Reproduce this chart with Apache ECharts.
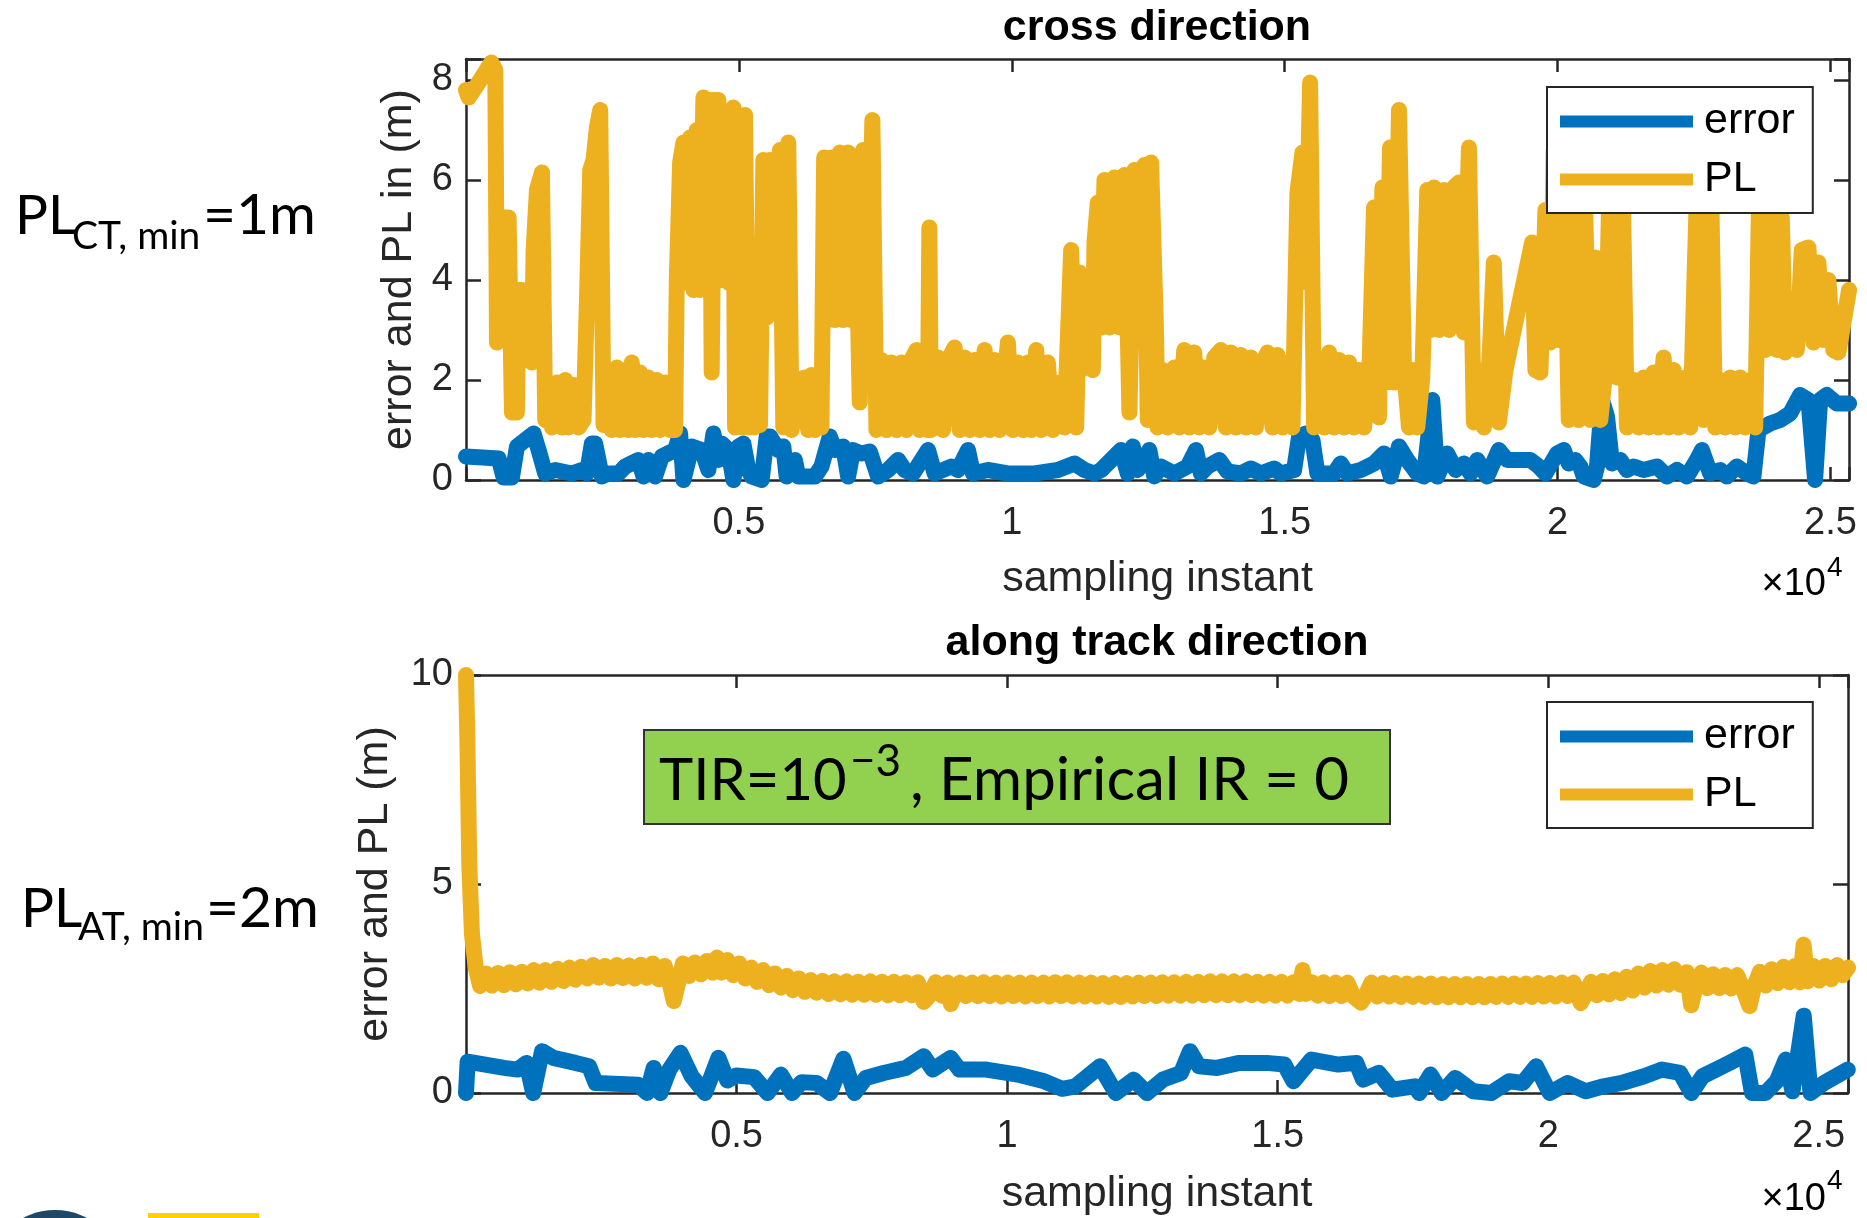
<!DOCTYPE html>
<html>
<head>
<meta charset="utf-8">
<script src="https://cdn.jsdelivr.net/npm/echarts@6/dist/echarts.min.js"></script>
<style>
html, body { margin: 0; padding: 0; background: #fff; }
#chart { width: 1867px; height: 1218px; }
</style>
</head>
<body>
<div id="chart"></div>
<script>
// x tick labels are shown in units of 1e4 (the "x10^4" note sits below the axis)
var xTickVals = [5000, 10000, 15000, 20000, 25000];
var xTickLabels = ['0.5', '1', '1.5', '2', '2.5'];
var ctYTicks = [0, 2, 4, 6, 8];
var atYTicks = [0, 5, 10];

// cross direction: error
var ctErr = [[0,0.47],[598,0.43],[690,0.05],[842,0.05],[934,0.67],[1086,0.8],[1239,0.93],[1330,0.6],[1452,0.13],[1635,0.2],
  [1940,0.13],[2123,0.2],[2215,0.13],[2306,0.73],[2367,0.73],[2489,0.07],[2611,0.13],[2794,0.13],[2916,0.27],[3160,0.4],
  [3252,0.07],[3343,0.4],[3465,0.07],[3587,0.47],[3831,0.6],[3923,0.93],[3984,0],[4136,0.67],[4319,0.6],[4441,0.2],
  [4533,0.93],[4624,0.4],[4685,0.73],[4807,0.6],[4899,0],[4990,0.67],[5082,0.73],[5173,0.2],[5234,0.07],[5417,0],
  [5509,0.87],[5570,0.87],[5722,0.6],[5814,0.67],[5875,0.07],[6027,0.4],[6088,0.07],[6391,0.07],[6513,0.27],[6666,0.87],
  [6757,0.6],[6910,0.67],[7001,0.07],[7093,0.6],[7245,0.53],[7398,0.57],[7550,0.07],[7733,0.2],[7916,0.4],[8038,0.2],
  [8191,0.13],[8465,0.6],[8587,0.13],[8892,0.27],[9014,0.2],[9197,0.6],[9289,0.13],[9563,0.2],[9929,0.13],[10417,0.13],
  [10844,0.2],[11149,0.33],[11332,0.2],[11515,0.13],[11637,0.2],[11820,0.4],[12003,0.6],[12125,0.13],[12217,0.67],[12308,0.2],
  [12520,0.6],[12611,0.07],[12733,0.27],[12855,0.2],[12977,0.13],[13099,0.2],[13221,0.27],[13374,0.6],[13465,0.13],[13587,0.27],
  [13801,0.4],[13953,0.17],[14197,0.13],[14380,0.23],[14563,0.13],[14807,0.23],[14929,0.13],[15173,0.2],[15265,0.87],[15387,0.93],
  [15509,0.8],[15600,0.13],[15905,0.13],[16027,0.33],[16149,0.13],[16393,0.2],[16637,0.33],[16820,0.53],[16942,0.07],[17095,0.67],
  [17247,0.4],[17430,0.13],[17552,0.07],[17705,1.6],[17796,0.07],[17979,0.53],[18132,0.2],[18284,0.33],[18406,0.13],[18528,0.4],
  [18710,0.07],[18924,0.6],[19076,0.4],[19503,0.4],[19656,0.27],[19778,0.13],[19991,0.53],[20113,0.6],[20205,0.33],[20327,0.4],
  [20418,0.27],[20479,0.07],[20662,0],[20723,0.27],[20815,1.6],[20906,1.27],[20998,0.33],[21150,0.4],[21272,0.2],[21394,0.27],
  [21577,0.2],[21821,0.27],[22004,0.07],[22187,0.2],[22370,0.07],[22553,0.4],[22645,0.6],[22797,0.13],[22980,0.2],[23102,0.07],
  [23285,0.27],[23468,0.13],[23590,0.07],[23682,1.0],[23895,1.13],[24078,1.2],[24261,1.33],[24444,1.7],[24597,1.6],[24719,0],
  [24811,1.6],[24933,1.7],[25115,1.53],[25341,1.53]];

// cross direction: PL
var ctPL = [[0,7.8],[49,7.65],[232,7.95],[464,8.35],[537,8.2],[568,2.75],[629,2.8],[690,5.25],[781,5.25],[842,1.35],
  [933,1.35],[964,3.8],[1025,3.8],[1086,2.4],[1147,3.8],[1208,2.35],[1239,4.6],[1300,5.8],[1391,6.15],[1452,1.2],
  [1513,1.95],[1574,1.05],[1666,1.95],[1757,1.05],[1818,2.0],[1879,1.05],[1970,1.9],[2062,1.05],[2154,1.2],[2215,3.55],
  [2276,6.2],[2337,6.4],[2398,7.05],[2459,7.4],[2520,1.1],[2611,2.2],[2672,1.0],[2764,2.25],[2825,1.0],[2916,2.2],
  [2977,1.0],[3038,2.35],[3099,1.0],[3190,2.15],[3252,1.0],[3343,2.05],[3404,1.0],[3496,2.0],[3557,1.0],[3648,1.95],
  [3740,1.0],[3831,1.0],[3862,4.0],[3923,6.35],[3984,6.75],[4045,3.95],[4106,6.85],[4167,3.8],[4228,7.0],[4289,3.8],
  [4350,7.65],[4411,3.95],[4472,7.6],[4502,2.15],[4551,7.6],[4624,7.6],[4685,4.0],[4746,7.25],[4807,3.95],[4899,7.45],
  [4930,1.05],[5021,4.25],[5060,1.05],[5112,7.3],[5173,1.05],[5234,4.3],[5280,1.05],[5326,1.95],[5387,1.1],[5448,6.4],
  [5509,3.25],[5570,6.4],[5661,3.35],[5752,6.6],[5814,1.05],[5905,6.75],[5966,1.0],[6088,2.0],[6208,2.05],[6269,1.0],
  [6330,2.1],[6391,1.0],[6452,2.0],[6513,1.05],[6562,6.45],[6635,3.2],[6696,6.45],[6757,3.2],[6849,6.55],[6910,3.2],
  [7001,6.55],[7062,3.2],[7123,6.45],[7215,1.55],[7276,6.6],[7367,3.25],[7446,7.2],[7520,1.0],[7611,2.4],[7703,1.0],
  [7794,2.35],[7886,1.0],[7977,2.35],[8069,1.0],[8160,2.4],[8252,2.6],[8313,1.0],[8400,2.3],[8460,1.0],[8490,5.05],
  [8520,1.0],[8648,2.45],[8740,1.0],[8831,2.4],[8953,2.65],[9045,1.0],[9136,2.45],[9228,1.0],[9319,2.4],[9411,1.0],
  [9502,2.6],[9594,1.0],[9685,2.4],[9777,1.0],[9929,2.75],[10021,1.0],[10112,2.35],[10204,1.0],[10295,2.35],[10356,1.0],
  [10448,2.6],[10539,1.0],[10661,2.35],[10753,1.0],[10875,1.95],[10966,1.05],[11088,4.6],[11180,1.05],[11241,4.15],[11271,2.2],
  [11393,3.25],[11485,2.2],[11515,4.75],[11576,5.55],[11637,3.05],[11698,6.0],[11790,3.05],[11881,6.05],[11973,3.05],[12064,6.1],
  [12156,1.35],[12247,6.2],[12339,3.05],[12430,6.3],[12491,1.2],[12552,6.35],[12642,3.05],[12672,1.05],[12764,2.2],[12855,1.05],
  [12977,2.25],[13069,1.05],[13160,2.6],[13252,1.05],[13343,2.55],[13435,1.05],[13526,2.25],[13618,1.05],[13709,2.45],[13831,2.6],
  [13923,1.05],[14014,2.55],[14106,1.05],[14197,2.5],[14289,1.05],[14380,2.45],[14472,1.05],[14563,2.25],[14685,2.55],[14777,1.05],
  [14868,2.5],[14960,1.05],[15051,2.35],[15143,1.05],[15234,5.75],[15326,6.55],[15387,3.95],[15466,7.95],[15539,1.05],[15631,2.35],
  [15722,1.05],[15814,2.55],[15905,1.05],[15997,2.4],[16088,1.05],[16180,2.35],[16271,1.05],[16363,2.2],[16454,1.05],[16546,1.95],
  [16637,5.45],[16729,1.25],[16790,5.85],[16851,1.95],[16930,6.65],[17003,1.95],[17095,7.4],[17186,2.25],[17278,1.05],[17339,2.2],
  [17430,1.05],[17522,2.05],[17613,5.8],[17674,3.0],[17735,5.85],[17827,3.0],[17918,5.8],[18010,3.0],[18101,5.85],[18193,5.95],
  [18284,2.95],[18376,6.65],[18467,1.15],[18559,2.2],[18650,1.05],[18742,2.15],[18832,4.35],[18924,1.15],[19046,2.2],[19534,4.75],
  [19595,2.2],[19686,2.15],[19778,5.4],[19869,2.75],[19930,6.6],[20022,2.8],[20113,6.6],[20205,1.2],[20296,6.6],[20388,1.2],
  [20479,6.6],[20601,1.2],[20693,4.45],[20784,1.2],[20876,2.2],[20967,6.6],[21089,2.05],[21181,6.6],[21272,1.05],[21394,2.0],
  [21486,1.05],[21577,2.05],[21669,1.05],[21760,2.15],[21852,1.05],[21943,2.45],[22035,1.05],[22126,2.2],[22218,1.05],[22340,2.05],
  [22431,1.05],[22584,6.9],[22675,1.2],[22797,6.9],[22889,1.05],[22980,2.0],[23072,1.05],[23163,2.05],[23255,1.05],[23346,2.05],
  [23438,1.05],[23529,2.0],[23621,1.05],[23712,6.9],[23804,2.6],[23895,6.6],[24017,2.6],[24109,5.25],[24170,2.55],[24292,3.45],
  [24384,2.6],[24475,4.6],[24597,4.65],[24688,2.75],[24780,4.35],[24872,2.8],[24963,4.0],[25054,2.6],[25146,2.55],[25341,3.8]];

// along track direction: error
var atErr = [[0,0],[30,0.75],[40,0.72],[705,0.6],[953,0.56],[1118,0.72],[1241,0],[1406,1.0],[1613,0.84],[2025,0.72],
  [2273,0.64],[2396,0.24],[3180,0.2],[3345,0],[3469,0.6],[3593,0],[3758,0.56],[3964,0.96],[4170,0.4],[4418,0],
  [4665,0.84],[4830,0.3],[4995,0.42],[5325,0.38],[5573,0],[5820,0.44],[6026,0],[6200,0.26],[6480,0.24],[6728,0],
  [6975,0.82],[7181,0],[7388,0.36],[7718,0.48],[8130,0.6],[8460,0.88],[8625,0.56],[8955,0.84],[9120,0.56],[9615,0.56],
  [10193,0.44],[10688,0.28],[11018,0.1],[11265,0.16],[11718,0.64],[12008,0],[12338,0.32],[12585,0],[12880,0.32],[13213,0.48],
  [13379,1.0],[13545,0.64],[13878,0.6],[14293,0.72],[14792,0.72],[15124,0.68],[15290,0.28],[15623,0.8],[16121,0.68],[16454,0.72],
  [16578,0.32],[16869,0.48],[17118,0.08],[17534,0.16],[17617,0],[17825,0.44],[18033,0],[18282,0.36],[18614,0.04],[18947,0],
  [19279,0.28],[19528,0.24],[19777,0.64],[20027,0],[20359,0.24],[20692,0.04],[21024,0.16],[21357,0.24],[21772,0.4],[22104,0.56],
  [22436,0.48],[22645,0],[22853,0.4],[23350,0.72],[23642,0.92],[23766,0],[24015,0],[24223,0.28],[24389,0.8],[24514,0.04],
  [24722,1.85],[24847,0],[25097,0.24],[25536,0.56]];

// along track direction: PL (noisy band, read as upper / lower centre values)
var atPL = [[0,10.0],[25,8.5],[60,5.5],[110,3.8],[180,3.0],[260,2.56],[370,2.86],[480,2.57],[590,2.87],[700,2.58],
  [810,2.89],[920,2.6],[1030,2.9],[1140,2.62],[1250,2.94],[1360,2.64],[1470,2.94],[1580,2.66],[1690,2.97],[1800,2.68],
  [1910,3.0],[2020,2.71],[2130,3.02],[2240,2.74],[2350,3.06],[2460,2.76],[2570,3.04],[2680,2.74],[2790,3.06],[2900,2.75],
  [3010,3.05],[3120,2.74],[3230,3.07],[3340,2.76],[3450,3.1],[3560,2.72],[3670,3.04],[3770,2.58],[3840,2.2],[3910,2.58],
  [4010,3.1],[4120,2.8],[4230,3.12],[4340,2.84],[4450,3.16],[4560,2.88],[4640,3.24],[4720,2.88],[4830,3.18],[4940,2.82],
  [5050,3.1],[5160,2.74],[5270,3.0],[5380,2.66],[5490,2.94],[5600,2.58],[5710,2.86],[5820,2.52],[5930,2.8],[6040,2.46],
  [6150,2.74],[6260,2.42],[6370,2.7],[6480,2.4],[6590,2.68],[6700,2.37],[6810,2.67],[6920,2.36],[7030,2.67],[7140,2.35],
  [7250,2.66],[7360,2.35],[7470,2.67],[7580,2.35],[7690,2.66],[7800,2.34],[7910,2.66],[8020,2.34],[8130,2.65],[8240,2.34],
  [8350,2.65],[8460,2.18],[8570,2.34],[8680,2.65],[8790,2.33],[8900,2.64],[8960,2.13],[9020,2.33],[9130,2.64],[9240,2.32],
  [9350,2.64],[9460,2.32],[9570,2.65],[9680,2.32],[9790,2.64],[9900,2.31],[10010,2.64],[10120,2.32],[10230,2.64],[10340,2.31],
  [10450,2.64],[10560,2.32],[10670,2.64],[10780,2.31],[10890,2.65],[11000,2.32],[11110,2.65],[11220,2.31],[11330,2.64],[11440,2.31],
  [11550,2.64],[11660,2.31],[11770,2.63],[11880,2.3],[11990,2.63],[12100,2.3],[12210,2.63],[12320,2.31],[12430,2.64],[12540,2.32],
  [12650,2.64],[12760,2.32],[12870,2.65],[12980,2.33],[13090,2.65],[13200,2.33],[13310,2.66],[13420,2.33],[13530,2.66],[13640,2.34],
  [13750,2.67],[13860,2.34],[13970,2.67],[14080,2.34],[14190,2.67],[14300,2.34],[14410,2.67],[14520,2.34],[14630,2.66],[14740,2.33],
  [14850,2.66],[14960,2.33],[15070,2.66],[15180,2.33],[15290,2.65],[15400,2.37],[15460,2.94],[15520,2.37],[15630,2.65],[15740,2.33],
  [15850,2.65],[15960,2.32],[16070,2.64],[16180,2.32],[16290,2.64],[16400,2.31],[16540,2.16],[16620,2.32],[16730,2.64],[16840,2.31],
  [16950,2.63],[17060,2.31],[17170,2.63],[17280,2.3],[17390,2.62],[17500,2.3],[17610,2.62],[17720,2.3],[17830,2.62],[17940,2.29],
  [18050,2.61],[18160,2.29],[18270,2.61],[18380,2.29],[18490,2.61],[18600,2.29],[18710,2.61],[18820,2.29],[18930,2.61],[19040,2.3],
  [19150,2.62],[19260,2.3],[19370,2.62],[19480,2.3],[19590,2.62],[19700,2.3],[19810,2.63],[19920,2.31],[20030,2.63],[20140,2.31],
  [20250,2.64],[20360,2.32],[20470,2.64],[20600,2.15],[20680,2.33],[20790,2.66],[20900,2.34],[21010,2.68],[21120,2.36],[21230,2.72],
  [21340,2.39],[21450,2.78],[21560,2.45],[21670,2.86],[21780,2.52],[21890,2.92],[22000,2.57],[22110,2.94],[22220,2.59],[22330,2.96],
  [22440,2.59],[22560,2.89],[22640,2.1],[22720,2.52],[22830,2.88],[22940,2.51],[23050,2.84],[23160,2.51],[23270,2.82],[23380,2.5],
  [23490,2.82],[23600,2.49],[23720,2.08],[23800,2.52],[23910,2.9],[24020,2.57],[24130,2.96],[24240,2.63],[24350,3.02],[24460,2.65],
  [24560,3.04],[24650,2.65],[24720,3.55],[24790,2.67],[24900,3.04],[25010,2.69],[25120,3.04],[25230,2.72],[25340,3.06],[25440,2.82],
  [25540,3.0]];

var FONT = '"Liberation Sans", Arial, Helvetica, sans-serif';
var LATO = 'Lato, "Noto Sans", sans-serif';
var INK = '#262626';
var BLUE = '#0072BD';
var YELLOW = '#EDB120';
var LINE_W = 16;

var chart = echarts.init(document.getElementById('chart'), null, { renderer: 'canvas' });

function xLabel(v) {
  for (var i = 0; i < xTickVals.length; i++) {
    if (Math.abs(v - xTickVals[i]) < 1e-6) return xTickLabels[i];
  }
  return '';
}
function yLabelFrom(ticks) {
  return function (v) {
    for (var i = 0; i < ticks.length; i++) {
      if (Math.abs(v - ticks[i]) < 1e-6) return String(ticks[i]);
    }
    return '';
  };
}

var axisLineStyle = { show: true, onZero: false, lineStyle: { color: INK, width: 2.5 } };

function xAxisPair(grid, max, nameGap) {
  return [{
    gridIndex: grid, type: 'value', position: 'bottom', min: 0, max: max, interval: 5000,
    axisLine: axisLineStyle,
    axisTick: { show: true, inside: true, length: 13, lineStyle: { color: INK, width: 2.5 } },
    axisLabel: { formatter: xLabel, color: INK, fontSize: 38, fontFamily: FONT, margin: 25 },
    splitLine: { show: false },
    name: 'sampling instant', nameLocation: 'middle', nameGap: nameGap,
    nameTextStyle: { color: INK, fontSize: 43, fontFamily: FONT }
  }, {
    gridIndex: grid, type: 'value', position: 'top', min: 0, max: max, interval: 5000,
    axisLine: axisLineStyle,
    axisTick: { show: true, inside: true, length: 13, lineStyle: { color: INK, width: 2.5 } },
    axisLabel: { show: false }, splitLine: { show: false }
  }];
}

function yAxisPair(grid, max, interval, ticks, name, nameGap) {
  return [{
    gridIndex: grid, type: 'value', position: 'left', min: 0, max: max, interval: interval,
    axisLine: axisLineStyle,
    axisTick: { show: true, inside: true, length: 15, lineStyle: { color: INK, width: 2.5 } },
    axisLabel: { formatter: yLabelFrom(ticks), color: INK, fontSize: 38, fontFamily: FONT, margin: 13 },
    splitLine: { show: false },
    name: name, nameLocation: 'middle', nameGap: nameGap,
    nameTextStyle: { color: INK, fontSize: 43, fontFamily: FONT }
  }, {
    gridIndex: grid, type: 'value', position: 'right', min: 0, max: max, interval: interval,
    axisLine: axisLineStyle,
    axisTick: { show: true, inside: true, length: 15, lineStyle: { color: INK, width: 2.5 } },
    axisLabel: { show: false }, splitLine: { show: false }
  }];
}

function lineSeries(name, data, color, xi, yi) {
  return {
    type: 'line', name: name, data: data, xAxisIndex: xi, yAxisIndex: yi,
    showSymbol: false, symbol: 'none', animation: false,
    color: color, itemStyle: { color: color },
    lineStyle: { color: color, width: LINE_W, cap: 'round', join: 'round' },
    emphasis: { disabled: true }
  };
}

function legendBox(top) {
  return {
    show: true, data: ['error', 'PL'], orient: 'vertical', left: 1547, top: top,
    padding: [13, 18, 12, 13], itemGap: 15, itemWidth: 133, itemHeight: 12, icon: 'rect',
    backgroundColor: '#fff', borderColor: INK, borderWidth: 2, borderRadius: 0,
    selectedMode: false, z: 10,
    textStyle: { color: '#000', fontSize: 43, fontFamily: FONT, padding: [0, 0, 0, 6] }
  };
}

function txt(x, y, text, font, align) {
  return {
    type: 'text', x: x, y: y, z: 50,
    style: { text: text, font: font, fill: '#000', align: align || 'left', verticalAlign: 'middle' }
  };
}

option = {
  backgroundColor: '#fff',
  animation: false,
  grid: [
    { left: 466, top: 59, width: 1383, height: 421, outerBoundsMode: 'none', containLabel: false },
    { left: 466, top: 675, width: 1382, height: 418, outerBoundsMode: 'none', containLabel: false }
  ],
  xAxis: xAxisPair(0, 25340, 78).concat(xAxisPair(1, 25540, 80)),
  yAxis: yAxisPair(0, 8.42, 2, ctYTicks, 'error and PL in (m)', 43)
    .concat(yAxisPair(1, 10, 5, atYTicks, 'error and PL (m)', 69)),
  legend: [legendBox(87), legendBox(702)],
  series: [
    lineSeries('error', ctErr, BLUE, 0, 0),
    lineSeries('PL', ctPL, YELLOW, 0, 0),
    lineSeries('error', atErr, BLUE, 2, 2),
    lineSeries('PL', atPL, YELLOW, 2, 2)
  ],
  graphic: [
    // titles
    txt(1157, 28, 'cross direction', 'bold 43px ' + FONT, 'center'),
    txt(1157, 643, 'along track direction', 'bold 43px ' + FONT, 'center'),
    // x10^4 multipliers
    txt(1826, 585, '\u00d710', '38px ' + FONT, 'right'),
    txt(1827, 568, '4', '28px ' + FONT, 'left'),
    txt(1826, 1200, '\u00d710', '38px ' + FONT, 'right'),
    txt(1827, 1181, '4', '28px ' + FONT, 'left'),
    // left-hand notes
    txt(15, 216, 'PL', '55px ' + LATO),
    txt(72, 236, 'CT, min', '39px ' + LATO),
    txt(203, 216, '=1m', '57px ' + LATO),
    txt(21, 909, 'PL', '55px ' + LATO),
    txt(78, 927, 'AT, min', '39px ' + LATO),
    txt(206, 909, '=2m', '57px ' + LATO),
    // green note box
    {
      type: 'rect', z: 40, shape: { x: 644, y: 730, width: 746, height: 94 },
      style: { fill: '#92D050', stroke: '#333', lineWidth: 2 }
    },
    txt(659, 781, 'TIR=10', '58px ' + LATO),
    txt(850, 762, '\u22123', '44px ' + LATO),
    txt(910, 781, ', Empirical IR = 0', '60px ' + LATO),
    // logo fragments at the page bottom
    { type: 'circle', z: 5, shape: { cx: 55, cy: 1278, r: 68 }, style: { fill: '#1f4766' } },
    { type: 'rect', z: 5, shape: { x: 148, y: 1213, width: 111, height: 10 }, style: { fill: '#FFD100' } }
  ]
};

chart.setOption(option);
</script>
</body>
</html>
